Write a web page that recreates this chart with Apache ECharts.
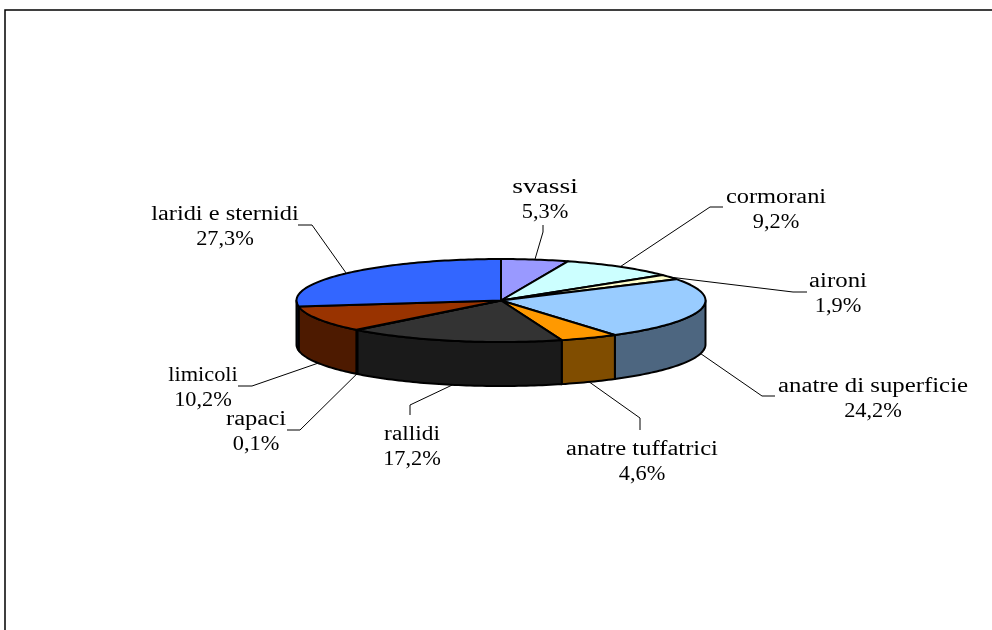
<!DOCTYPE html>
<html><head><meta charset="utf-8">
<style>html,body{margin:0;padding:0;background:#fff}#c{width:992px;height:630px}</style>
<script src="https://cdn.jsdelivr.net/npm/echarts@6/dist/echarts.min.js"></script>
</head><body><div id="c"></div>
<script>
const categories = ['svassi','cormorani','aironi','anatre di superficie','anatre tuffatrici','rallidi','rapaci','limicoli','laridi e sternidi'];
const percentages = [5.3,9.2,1.9,24.2,4.6,17.2,0.1,10.2,27.3];
const topColors = ['#9999FF','#CCFFFF','#FFFFCC','#99CCFF','#FF9900','#333333','#CCCCFF','#993300','#3366FF'];
const sideColors = ['#4D4D80','#668080','#808066','#4D6680','#804D00','#1A1A1A','#666680','#4D1A00','#1A3380'];
// layout only: label centres, horizontal text stretch and leader elbows, in page pixels
const labelCentres = [[545,188],[776,198],[838,282],[873,387],[642,450],[412,435],[256,420],[203,376],[225,215]];
const nameStretch = [1.34,1.19,1.21,1.21,1.2,1.14,1.2,1.09,1.19];
const valueStretch = 1.09;
const leaderElbows = [
 [[543,232],[543,225]],[[710,207],[723,207]],[[793,292],[807,292]],[[762,396],[775,396]],
 [[640,418],[640,430]],[[410,405],[410,415]],[[300,430],[287,430]],[[252,386],[238,386]],[[312,225],[298,225]]
];
const CX=501, CY=300.5, RX=204.5, RY=41.5, DEPTH=44, LINE=25;
const total = percentages.reduce((a,b)=>a+b,0);
const starts = []; let acc = 0;
percentages.forEach(v=>{starts.push(acc); acc+=v;});
const ang = p => p/total*2*Math.PI;
const pt = (a,dy=0) => [CX+RX*Math.sin(a), CY-RY*Math.cos(a)+dy];
function arc(a0,a1,dy){const n=Math.max(2,Math.ceil((a1-a0)/0.02));const r=[];for(let i=0;i<=n;i++)r.push(pt(a0+(a1-a0)*i/n,dy));return r;}
const rows = percentages.map((v,i)=>[i,v]);
const stroke = {stroke:'#000',lineWidth:2,lineJoin:'round'};
const font = '20.5px "Liberation Serif"';

function renderSide(params,api){
  const i=api.value(0), a0=ang(starts[i]), a1=a0+ang(api.value(1));
  const s=Math.max(a0,Math.PI/2), e=Math.min(a1,3*Math.PI/2);
  if(e<=s) return {type:'group',children:[]};
  const pts=arc(s,e,0).concat(arc(s,e,DEPTH).reverse());
  return {type:'polygon',shape:{points:pts},style:{fill:sideColors[i],...stroke}};
}
function renderTop(params,api){
  const i=api.value(0), a0=ang(starts[i]), a1=a0+ang(api.value(1));
  const pts=[[CX,CY]].concat(arc(a0,a1,0));
  return {type:'polygon',shape:{points:pts},style:{fill:topColors[i],...stroke}};
}
function renderLabel(params,api){
  const i=api.value(0), v=api.value(1), a=ang(starts[i]+v/2);
  const front=Math.cos(a)<0;
  const line=[pt(a,front?DEPTH:0)].concat(leaderElbows[i]);
  const [x,y]=labelCentres[i];
  const txt=(t,ty,sx)=>({type:'text',x:x,y:ty,scaleX:sx,style:{text:t,font:font,fill:'#000',align:'center',verticalAlign:'middle'}});
  return {type:'group',children:[
    {type:'polyline',shape:{points:line},style:{fill:null,stroke:'#000',lineWidth:1}},
    txt(categories[i],y,nameStretch[i]),
    txt(v.toFixed(1).replace('.',',')+'%',y+LINE,valueStretch)
  ]};
}
const chart = echarts.init(document.getElementById('c'),null,{renderer:'canvas'});
chart.setOption({
  animation:false,
  backgroundColor:'#fff',
  graphic:[{type:'polyline',silent:true,shape:{points:[[5,630],[5,10],[992,10]]},style:{fill:null,stroke:'#000',lineWidth:1.5}}],
  series:[
    {type:'custom',coordinateSystem:'none',data:rows,renderItem:renderSide,z:2,silent:true},
    {type:'custom',coordinateSystem:'none',data:rows,renderItem:renderTop,z:3,silent:true},
    {type:'custom',coordinateSystem:'none',data:rows,renderItem:renderLabel,z:4,silent:true}
  ]
});
</script></body></html>
